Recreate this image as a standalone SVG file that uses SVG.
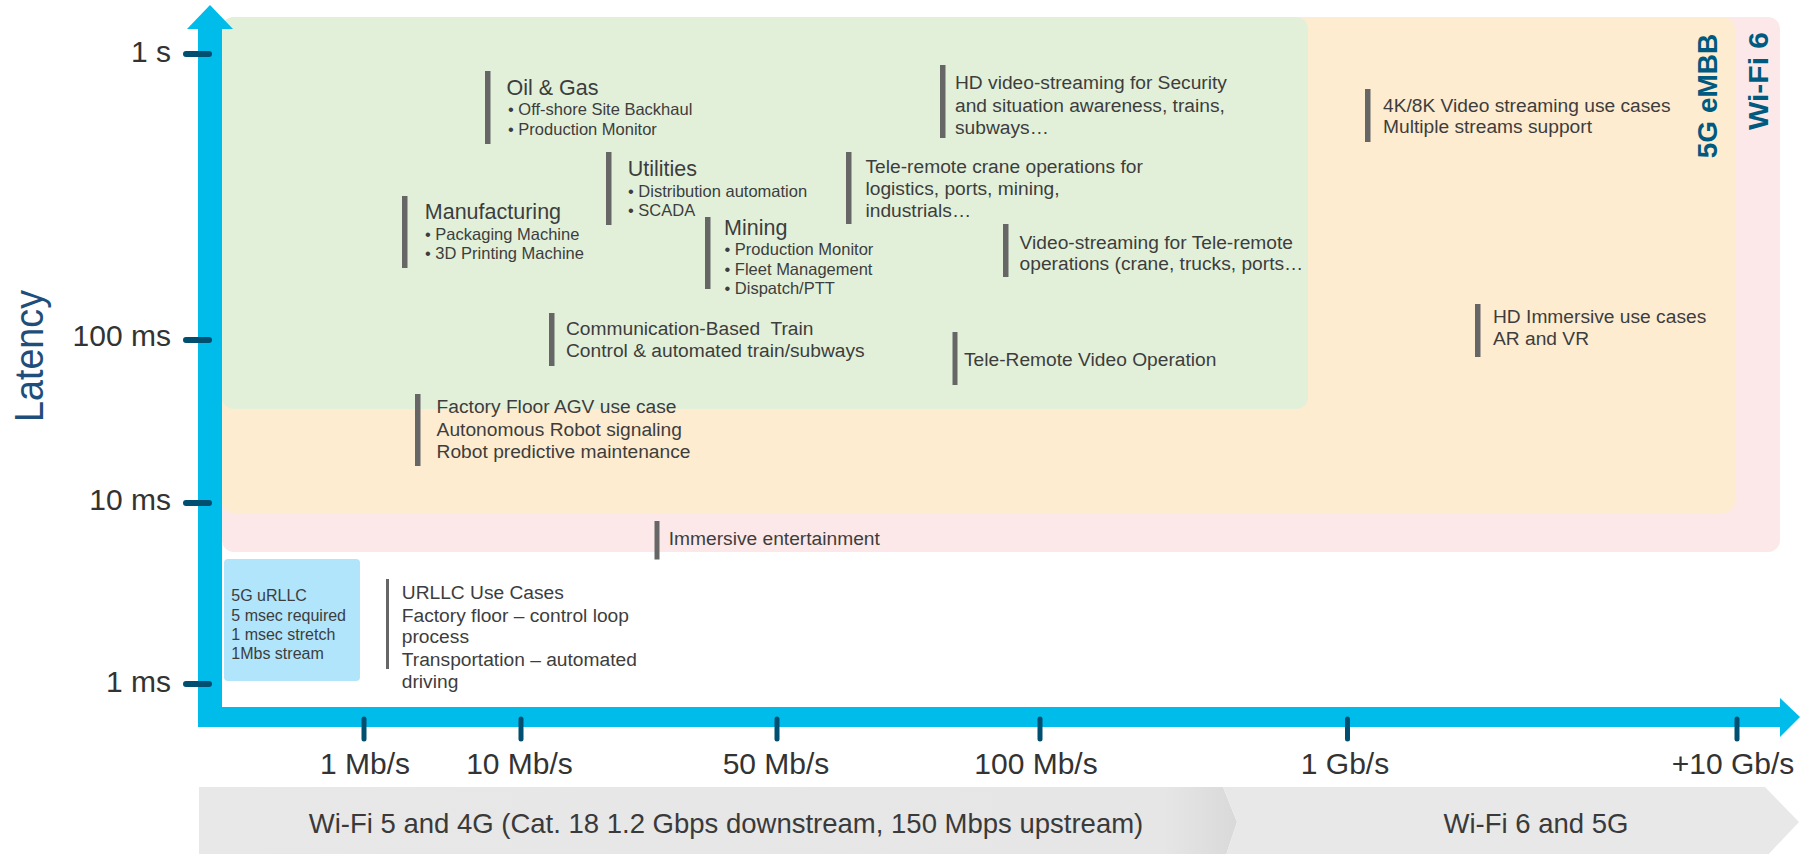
<svg xmlns="http://www.w3.org/2000/svg" width="1815" height="854" viewBox="0 0 1815 854">
<defs>
<style>
text{font-family:"Liberation Sans",Arial,sans-serif;fill:#3d3d3d}
.lbl{font-size:19.2px}
.hd{font-size:21.5px}
.bl{font-size:16.5px}
.box{font-size:16px}
.ax{font-size:30px;fill:#333}
.axe{font-size:30px;fill:#333;text-anchor:end}
.axm{font-size:30px;fill:#333;text-anchor:middle}
.band{font-size:27.5px;fill:#3a3a3a;text-anchor:middle}
.reg{font-size:28px;font-weight:bold;fill:#005a80;text-anchor:middle}
.bar{fill:#666}
.tick{stroke:#004f71;stroke-linecap:round;fill:none}
.axis{fill:#00bceb}
</style>
<linearGradient id="bandGrad" x1="199" y1="0" x2="1237" y2="0" gradientUnits="userSpaceOnUse">
<stop offset="0" stop-color="#e8e8e8"/>
<stop offset="0.93" stop-color="#e6e6e6"/>
<stop offset="1" stop-color="#d9d9d9"/>
</linearGradient>
</defs>
<rect width="1815" height="854" fill="#ffffff"/>

<g id="regions">
<rect id="wifi6-region" x="222" y="17" width="1558" height="535" rx="12" fill="#fce8e8"/>
<rect id="embb-region" x="222" y="17" width="1513" height="496" rx="12" fill="#fdecd0"/>
<rect id="wifi5-region" x="222" y="17" width="1086" height="392" rx="12" fill="#e2f0da"/>
</g>

<g id="region-labels">
<text class="reg" transform="translate(1716.5,96) rotate(-90)">5G eMBB</text>
<text class="reg" transform="translate(1768,81) rotate(-90)" textLength="98" lengthAdjust="spacingAndGlyphs">Wi-Fi 6</text>
</g>

<g id="bands">
<path d="M199,787 H1223 L1237,822 L1225,858 H199 Z" fill="url(#bandGrad)"/>
<path d="M1223,787 H1765 L1799,822 L1765,858 H1225 L1237,822 Z" fill="#e8e8e8"/>
<text class="band" x="726" y="833">Wi-Fi 5 and 4G (Cat. 18 1.2 Gbps downstream, 150 Mbps upstream)</text>
<text class="band" x="1536" y="833">Wi-Fi 6 and 5G</text>
</g>

<g id="connectors">
<rect class="axis" x="198" y="28" width="24" height="699"/>
<polygon class="axis" points="187,29 233,29 210,5"/>
<rect class="axis" x="198" y="707" width="1583" height="20"/>
<polygon class="axis" points="1780,698 1780,737 1800,717"/>
<g class="tick" stroke-width="6">
<line x1="186" y1="54" x2="209" y2="54"/>
<line x1="186" y1="340" x2="209" y2="340"/>
<line x1="186" y1="503" x2="209" y2="503"/>
<line x1="186" y1="684" x2="209" y2="684"/>
</g>
<g class="tick" stroke-width="5">
<line x1="364" y1="719" x2="364" y2="739"/>
<line x1="521" y1="719" x2="521" y2="739"/>
<line x1="777" y1="719" x2="777" y2="739"/>
<line x1="1040" y1="719" x2="1040" y2="739"/>
<line x1="1347.5" y1="719" x2="1347.5" y2="739"/>
<line x1="1737" y1="719" x2="1737" y2="739"/>
</g>
</g>

<g id="axis-labels">
<text transform="translate(42.7,356) rotate(-90)" text-anchor="middle" font-size="40" fill="#1f4e7b" style="fill:#1f4e7b" textLength="132" lengthAdjust="spacingAndGlyphs">Latency</text>
<text class="axe" x="171" y="62">1 s</text>
<text class="axe" x="171" y="346">100 ms</text>
<text class="axe" x="171" y="510">10 ms</text>
<text class="axe" x="171" y="692">1 ms</text>
<text class="axm" x="365" y="774">1 Mb/s</text>
<text class="axm" x="519.5" y="774">10 Mb/s</text>
<text class="axm" x="776" y="774">50 Mb/s</text>
<text class="axm" x="1036" y="774">100 Mb/s</text>
<text class="axm" x="1345" y="774">1 Gb/s</text>
<text class="axm" x="1733" y="774">+10 Gb/s</text>
</g>

<g id="oil-gas">
<rect class="bar" x="485" y="71" width="5.5" height="73"/>
<text class="hd" x="506.5" y="95">Oil &amp; Gas</text>
<text class="bl" x="508" y="115">• Off-shore Site Backhaul</text>
<text class="bl" x="508" y="135">• Production Monitor</text>
</g>

<g id="utilities">
<rect class="bar" x="606" y="152" width="5.5" height="73"/>
<text class="hd" x="627.7" y="176">Utilities</text>
<text class="bl" x="628" y="197">• Distribution automation</text>
<text class="bl" x="628" y="216">• SCADA</text>
</g>

<g id="manufacturing">
<rect class="bar" x="402" y="196" width="5.5" height="72"/>
<text class="hd" x="424.8" y="219">Manufacturing</text>
<text class="bl" x="425" y="240">• Packaging Machine</text>
<text class="bl" x="425" y="259">• 3D Printing Machine</text>
</g>

<g id="mining">
<rect class="bar" x="705" y="217" width="5.5" height="72"/>
<text class="hd" x="724" y="235">Mining</text>
<text class="bl" x="724.5" y="255">• Production Monitor</text>
<text class="bl" x="724.5" y="274.5">• Fleet Management</text>
<text class="bl" x="724.5" y="293.5">• Dispatch/PTT</text>
</g>

<g id="hd-video-security">
<rect class="bar" x="940" y="65" width="5.5" height="73"/>
<text class="lbl" x="955" y="89">HD video-streaming for Security</text>
<text class="lbl" x="955" y="111.5">and situation awareness, trains,</text>
<text class="lbl" x="955" y="133.5">subways…</text>
</g>

<g id="tele-remote-crane">
<rect class="bar" x="846" y="152" width="5.5" height="72"/>
<text class="lbl" x="865.5" y="173">Tele-remote crane operations for</text>
<text class="lbl" x="865.5" y="195">logistics, ports, mining,</text>
<text class="lbl" x="865.5" y="217">industrials…</text>
</g>

<g id="video-tele-remote">
<rect class="bar" x="1003" y="224" width="5.5" height="53"/>
<text class="lbl" x="1019.6" y="248.5">Video-streaming for Tele-remote</text>
<text class="lbl" x="1019.6" y="269.5">operations (crane, trucks, ports…</text>
</g>

<g id="video-4k8k">
<rect class="bar" x="1365" y="89" width="5.5" height="53"/>
<text class="lbl" x="1383" y="111.5">4K/8K Video streaming use cases</text>
<text class="lbl" x="1383" y="133.3">Multiple streams support</text>
</g>

<g id="cbtc">
<rect class="bar" x="549" y="313" width="5.5" height="53"/>
<text class="lbl" x="566" y="335" xml:space="preserve">Communication-Based  Train</text>
<text class="lbl" x="566" y="357.3">Control &amp; automated train/subways</text>
</g>

<g id="tele-remote-video">
<rect class="bar" x="952.5" y="332" width="5" height="53"/>
<text class="lbl" x="964" y="365.5">Tele-Remote Video Operation</text>
</g>

<g id="hd-immersive">
<rect class="bar" x="1475" y="304" width="5.5" height="53"/>
<text class="lbl" x="1493" y="322.7">HD Immersive use cases</text>
<text class="lbl" x="1493" y="345">AR and VR</text>
</g>

<g id="factory-agv">
<rect class="bar" x="415" y="394" width="5.5" height="72"/>
<text class="lbl" x="436.6" y="413.3">Factory Floor AGV use case</text>
<text class="lbl" x="436.6" y="436">Autonomous Robot signaling</text>
<text class="lbl" x="436.6" y="457.7">Robot predictive maintenance</text>
</g>

<g id="immersive-entertainment">
<rect class="bar" x="654.5" y="521" width="5" height="38.5"/>
<text class="lbl" x="668.7" y="545">Immersive entertainment</text>
</g>

<g id="urllc-box">
<rect x="224" y="559" width="136" height="122" rx="4" fill="#b0e5fb"/>
<text class="box" x="231.3" y="601">5G uRLLC</text>
<text class="box" x="231.3" y="620.5">5 msec required</text>
<text class="box" x="231.3" y="640">1 msec stretch</text>
<text class="box" x="231.3" y="659">1Mbs stream</text>
</g>

<g id="urllc-use-cases">
<rect class="bar" x="386" y="579" width="3" height="90"/>
<text class="lbl" x="401.8" y="599">URLLC Use Cases</text>
<text class="lbl" x="401.8" y="621.7">Factory floor – control loop</text>
<text class="lbl" x="401.8" y="643.3">process</text>
<text class="lbl" x="401.8" y="666">Transportation – automated</text>
<text class="lbl" x="401.8" y="688.3">driving</text>
</g>
</svg>
